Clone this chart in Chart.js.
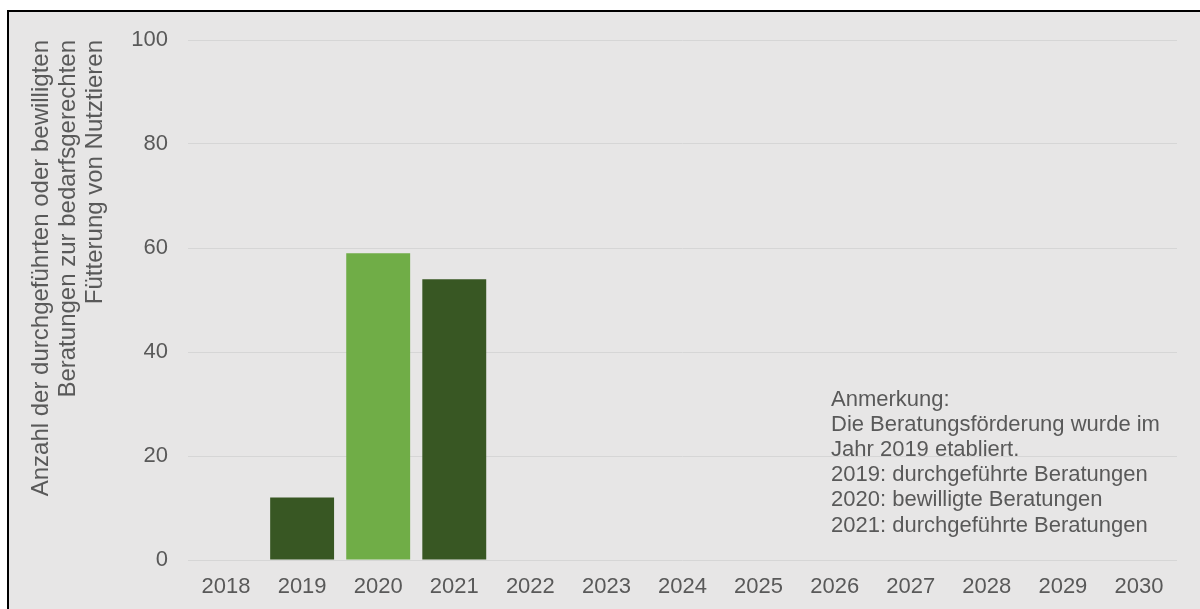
<!DOCTYPE html>
<html lang="de">
<head>
<meta charset="utf-8">
<title>Beratungen zur bedarfsgerechten Fütterung von Nutztieren</title>
<script src="https://cdn.jsdelivr.net/npm/chart.js@4/dist/chart.umd.min.js"></script>
<style>
  html, body { margin: 0; padding: 0; background: #ffffff; overflow: hidden; }
  #frame {
    position: absolute; left: 7px; top: 10px; width: 1210px; height: 620px;
    background: #e7e6e6; border-left: 2px solid #000; border-top: 2px solid #000;
  }
  #chart { position: absolute; left: 0; top: 0; }
</style>
</head>
<body>
<div id="frame"></div>
<canvas id="chart" width="1200" height="609"></canvas>
<script>
// Years on the x axis
const years = ['2018', '2019', '2020', '2021', '2022', '2023', '2024',
               '2025', '2026', '2027', '2028', '2029', '2030'];
// Number of consultations per year (null = no value)
const consultations = [null, 12, 59, 54, null, null, null, null, null, null, null, null, null];
// What the yearly number counts: carried out (d) or approved (b)
const kind = ['', 'd', 'b', 'd', '', '', '', '', '', '', '', '', ''];
// Y axis ticks
const yTicks = [0, 20, 40, 60, 80, 100];
// Axis title, one entry per line
const yTitle = ['Anzahl der durchgeführten oder bewilligten',
                'Beratungen zur bedarfsgerechten',
                'Fütterung von Nutztieren'];
// Note shown inside the plot
const noteLines = ['Anmerkung:',
                   'Die Beratungsförderung wurde im',
                   'Jahr 2019 etabliert.',
                   '2019: durchgeführte Beratungen',
                   '2020: bewilligte Beratungen',
                   '2021: durchgeführte Beratungen'];

const DARK = '#385723';
const LIGHT = '#70ad47';
const TEXT = '#595959';
const FONT = "'Liberation Sans', Arial, sans-serif";

const notePlugin = {
  id: 'note',
  afterDraw(chart) {
    const { ctx, chartArea } = chart;
    ctx.save();
    ctx.font = '22px ' + FONT;
    ctx.fillStyle = TEXT;
    ctx.textAlign = 'left';
    ctx.textBaseline = 'alphabetic';
    const x = chartArea.left + 643;
    let y = chartArea.top + 366;
    noteLines.forEach((line) => {
      ctx.fillText(line, x, y);
      y += 25.1;
    });
    ctx.restore();
  }
};

new Chart(document.getElementById('chart'), {
  type: 'bar',
  data: {
    labels: years,
    datasets: [{
      data: consultations,
      backgroundColor: kind.map(k => (k === 'b' ? LIGHT : DARK)),
      borderWidth: 0,
      categoryPercentage: 1,
      barPercentage: 0.84
    }]
  },
  options: {
    responsive: false,
    animation: false,
    layout: { padding: { left: 10, top: 40, right: 23, bottom: 0 } },
    plugins: {
      legend: { display: false },
      tooltip: { enabled: false }
    },
    scales: {
      x: {
        grid: { display: false, drawTicks: false },
        border: { display: false },
        ticks: { color: TEXT, font: { family: FONT, size: 22 }, padding: 14, maxRotation: 0 },
        afterFit(scale) { scale.height = 49; }
      },
      y: {
        min: 0,
        max: 100,
        afterBuildTicks(scale) { scale.ticks = yTicks.map(v => ({ value: v })); },
        grid: { color: '#d6d6d6', lineWidth: 1, drawTicks: false },
        border: { display: false },
        ticks: { color: TEXT, font: { family: FONT, size: 22 }, padding: 20 },
        title: {
          display: true,
          text: yTitle,
          align: 'end',
          color: TEXT,
          font: { family: FONT, size: 24, lineHeight: 1.125 },
          padding: { top: 17.5, bottom: 0 }
        },
        afterFit(scale) { scale.width = 178; }
      }
    }
  },
  plugins: [notePlugin]
});
</script>
</body>
</html>
